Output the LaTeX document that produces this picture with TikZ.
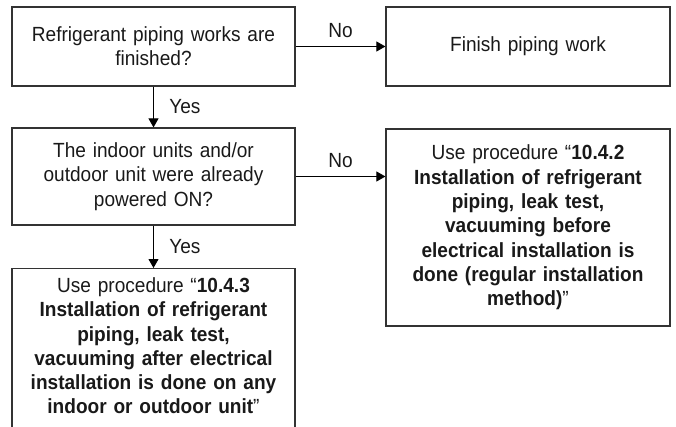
\documentclass[tikz,border=0pt]{standalone}
\usepackage{fontspec}
\setmainfont{Liberation Sans}[FakeStretch=0.93]
\usetikzlibrary{arrows.meta,positioning}

\begin{document}
\begin{tikzpicture}[x=1pt,y=1pt,
  box/.style={draw=black!80,line width=1.2pt,align=center,text width=275pt,minimum width=283pt,inner sep=4pt,font=\fontsize{20.5}{24.3}\selectfont,text=black!90},
  arr/.style={-{Triangle[length=9pt,width=10pt]},line width=0.9pt},
  lbl/.style={font=\fontsize{20.5}{24.3}\selectfont,text=black!90}]
\useasboundingbox (0,0) rectangle (676,-427);
\node[box,minimum height=79pt] (works) at (153.5,-46.5) {Refrigerant piping works are\\finished?};
\node[box,minimum height=79pt,minimum width=284pt] (finish) at (528,-46.5) {Finish piping work};
\node[box,minimum height=97pt] (power) at (153.5,-176.5) {The indoor units and/or\\outdoor unit were already\\powered ON?};
\node[box,minimum height=197pt,minimum width=284pt] (before) at (528,-227.5) {Use procedure “\textbf{10.4.2}\\\textbf{Installation of refrigerant}\\\textbf{piping, leak test,}\\\textbf{vacuuming before}\\\textbf{electrical installation is}\\\textbf{done (regular installation}\\\textbf{method)}”};
\node[box,anchor=north,inner ysep=9pt] (after) at (153.5,-268) {Use procedure “\textbf{10.4.3}\\\textbf{Installation of refrigerant}\\\textbf{piping, leak test,}\\\textbf{vacuuming after electrical}\\\textbf{installation is done on any}\\\textbf{indoor or outdoor unit}”\rule[-30pt]{0pt}{30pt}};
\draw[arr] (works) -- node[lbl,above=5pt] {No} (finish);
\draw[arr] (works) -- node[lbl,right=12pt] {Yes} (power);
\draw[arr] (power.east) -- node[lbl,above=5pt] {No} (power.east -| before.west);
\draw[arr] (power) -- node[lbl,right=12pt] {Yes} (after);
\end{tikzpicture}
\end{document}
